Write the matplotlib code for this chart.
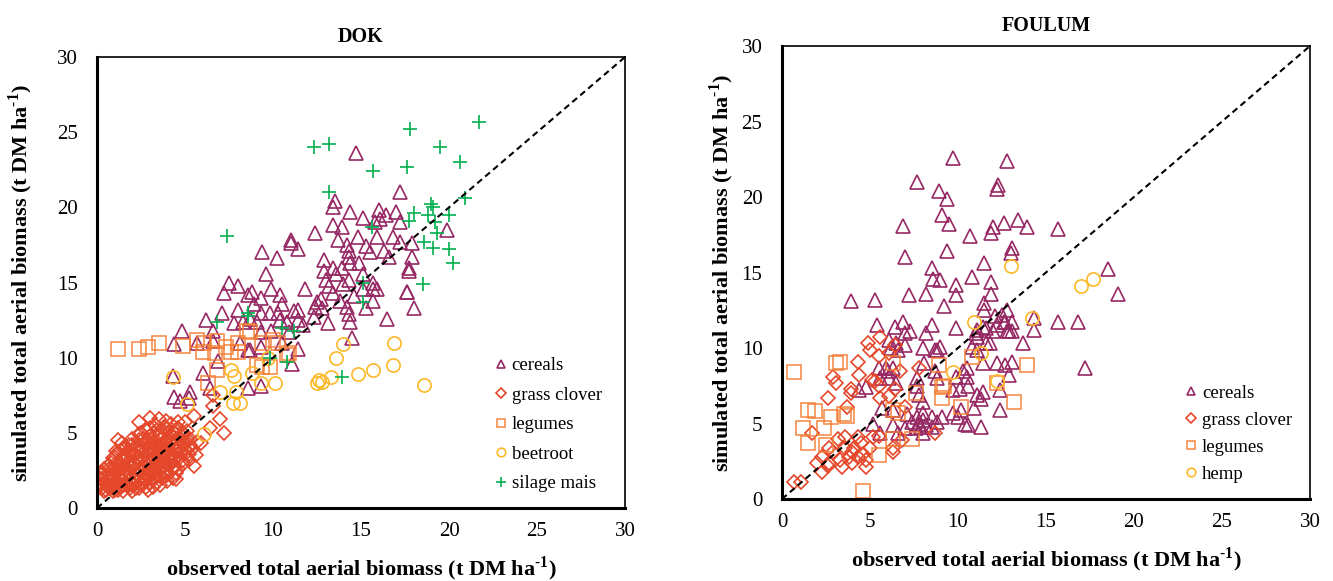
import numpy as np
import matplotlib.pyplot as plt

plt.rcParams['font.family'] = ['Liberation Serif', 'DejaVu Serif']
plt.rcParams['mathtext.fontset'] = 'custom'
plt.rcParams['mathtext.rm'] = 'Liberation Serif:bold'
plt.rcParams['mathtext.bf'] = 'Liberation Serif:bold'

# ---------------- DOK ----------------
dok_cereals = np.array([
    (14.7, 23.6), (17.2, 21.0), (13.5, 20.4), (13.4, 20.0), (14.4, 19.7), (16.0, 19.8), (16.4, 19.5),
    (17.0, 19.7), (15.1, 19.3), (16.1, 19.2), (17.2, 19.0), (15.8, 19.0), (13.4, 18.8), (13.9, 18.7),
    (12.4, 18.3), (19.9, 18.5), (11.0, 17.8), (11.0, 17.6), (11.4, 17.2), (13.7, 17.8), (15.9, 18.0),
    (16.8, 18.0), (17.2, 17.7), (17.9, 17.6), (14.2, 17.5), (14.3, 17.1), (14.3, 16.7), (14.4, 16.3),
    (15.3, 17.4), (15.5, 17.0), (16.3, 17.1), (16.6, 16.7), (17.9, 16.7), (17.7, 16.0), (9.4, 17.0),
    (10.2, 16.6), (9.6, 15.6), (14.9, 16.3), (13.4, 16.0), (12.9, 15.8), (13.9, 16.0), (14.3, 15.2),
    (15.1, 15.6), (15.7, 15.0), (15.7, 14.6), (15.1, 14.6), (13.0, 15.2), (13.4, 14.3), (13.2, 14.8),
    (7.5, 15.0), (8.0, 14.8), (7.2, 14.3), (8.6, 14.2), (8.8, 14.4), (9.3, 14.0), (9.9, 14.6),
    (10.4, 14.2), (11.8, 14.6), (10.5, 13.6), (12.7, 13.9), (12.4, 13.4), (12.8, 13.3), (14.2, 13.4),
    (14.3, 12.9), (14.4, 12.4), (15.3, 13.3), (15.7, 13.8), (17.6, 14.4), (18.0, 13.3), (16.5, 12.6),
    (14.5, 11.3), (13.1, 12.3), (12.3, 12.7), (11.4, 13.2), (11.2, 13.1), (10.3, 13.0), (9.8, 13.0),
    (9.3, 13.0), (8.9, 13.6), (8.0, 13.2), (7.1, 13.0), (6.2, 12.5), (6.6, 11.8), (7.8, 12.3),
    (8.3, 12.4), (8.7, 12.6), (9.1, 12.4), (9.9, 11.8), (10.4, 12.5), (10.8, 12.4), (11.4, 12.5),
    (11.7, 12.2), (10.9, 11.7), (9.3, 11.7), (8.6, 10.5), (8.1, 11.0), (6.6, 11.1), (11.4, 10.6),
    (10.5, 11.0), (4.8, 11.8), (4.4, 10.9), (5.7, 11.0), (6.9, 9.8), (6.0, 9.0), (4.3, 8.8),
    (4.4, 7.4), (4.7, 7.1), (5.3, 7.7), (8.6, 8.0), (9.3, 8.1), (8.7, 10.5), (9.3, 10.7),
    (11.1, 9.6), (12.5, 13.7), (17.7, 15.8), (17.6, 14.4), (15.9, 14.6), (6.4, 8.0), (5.2, 7.3),
    (13.6, 15.6), (14.0, 14.9), (13.8, 13.8), (14.6, 14.1), (12.9, 16.5), (14.8, 18.0),
])

dok_grass = np.array([
    (0.1, 1.5), (0.2, 1.9), (0.3, 1.3), (0.3, 2.4), (0.4, 1.7), (0.5, 2.1), (0.5, 1.2), (0.6, 2.8),
    (0.6, 1.6), (0.7, 2.2), (0.8, 1.4), (0.8, 3.0), (0.9, 1.9), (0.9, 2.6), (1.0, 1.2), (1.0, 3.4),
    (1.0, 2.3), (1.1, 1.7), (1.1, 2.9), (1.2, 2.1), (1.2, 3.7), (1.3, 1.4), (1.3, 2.5), (1.4, 3.2),
    (1.4, 1.9), (1.5, 2.7), (1.5, 4.0), (1.5, 1.1), (1.6, 2.2), (1.6, 3.5), (1.7, 1.6), (1.7, 2.9),
    (1.8, 4.2), (1.8, 2.4), (1.9, 1.3), (1.9, 3.2), (2.0, 2.0), (2.0, 3.8), (2.0, 2.7), (2.0, 4.6),
    (2.1, 1.5), (2.1, 3.0), (2.2, 2.3), (2.2, 4.1), (2.3, 1.8), (2.3, 3.4), (2.4, 2.6), (2.4, 4.5),
    (2.4, 1.3), (2.5, 2.0), (2.5, 3.8), (2.5, 3.0), (2.5, 5.0), (2.6, 1.6), (2.6, 2.8), (2.7, 3.5),
    (2.7, 4.3), (2.8, 2.2), (2.8, 1.9), (2.8, 5.2), (2.9, 3.1), (2.9, 2.5), (3.0, 4.0), (3.0, 1.7),
    (3.0, 3.6), (3.0, 4.8), (3.1, 2.3), (3.1, 3.2), (3.2, 2.8), (3.2, 4.4), (3.2, 1.4), (3.3, 5.5),
    (3.3, 3.7), (3.3, 2.0), (3.4, 4.1), (3.4, 3.0), (3.5, 2.5), (3.5, 4.8), (3.5, 3.5), (3.5, 5.9),
    (3.6, 2.1), (3.6, 4.2), (3.7, 3.2), (3.7, 5.0), (3.8, 2.7), (3.8, 3.8), (3.9, 4.5), (3.9, 2.4),
    (4.0, 3.4), (4.0, 5.3), (4.0, 4.0), (4.0, 1.8), (4.1, 2.9), (4.1, 4.7), (4.2, 3.6), (4.2, 5.6),
    (4.3, 4.2), (4.3, 2.6), (4.4, 3.2), (4.4, 5.0), (4.5, 4.4), (4.5, 3.8), (4.5, 2.3), (4.6, 5.3),
    (4.7, 3.4), (4.7, 4.0), (4.8, 4.8), (4.9, 2.9), (5.0, 4.3), (5.0, 3.6), (5.1, 5.1), (5.2, 3.2),
    (5.3, 4.6), (5.4, 3.9), (5.5, 2.8),
    (0.2, 2.2), (0.4, 2.6), (0.4, 1.1), (0.6, 1.9), (0.7, 1.3), (0.7, 2.6), (0.8, 2.0), (0.9, 3.3),
    (1.0, 1.6), (1.1, 2.5), (1.1, 3.8), (1.2, 1.2), (1.3, 3.0), (1.3, 2.0), (1.4, 2.7), (1.4, 4.3),
    (1.5, 1.5), (1.5, 3.4), (1.6, 2.0), (1.6, 4.0), (1.7, 2.6), (1.7, 3.3), (1.8, 1.5), (1.8, 3.7),
    (1.9, 2.2), (1.9, 2.9), (2.0, 1.6), (2.0, 4.2), (2.1, 3.5), (2.1, 2.5), (2.2, 1.3), (2.2, 2.9),
    (2.3, 3.8), (2.3, 2.1), (2.4, 3.1), (2.4, 4.9), (2.5, 1.6), (2.5, 2.4), (2.6, 3.3), (2.6, 4.0),
    (2.6, 4.6), (2.7, 2.0), (2.7, 2.7), (2.8, 3.8), (2.8, 1.4), (2.9, 4.4), (2.9, 2.2), (3.0, 3.0),
    (3.0, 2.6), (3.0, 5.3), (3.1, 3.9), (3.1, 1.9), (3.2, 3.4), (3.2, 2.5), (3.2, 5.0), (3.3, 4.3),
    (3.3, 2.8), (3.4, 3.6), (3.4, 1.7), (3.4, 5.2), (3.5, 2.2), (3.5, 4.0), (3.6, 3.0), (3.6, 4.6),
    (3.6, 2.6), (3.7, 3.6), (3.7, 2.0), (3.8, 4.2), (3.8, 3.2), (3.8, 5.4), (3.9, 2.9), (3.9, 3.6),
    (4.0, 4.6), (4.0, 2.2), (4.1, 3.8), (4.1, 5.0), (4.2, 3.1), (4.2, 4.4), (4.3, 2.0), (4.3, 3.5),
    (4.4, 4.7), (4.4, 2.8), (4.5, 3.4), (4.5, 5.2), (4.6, 4.1), (4.6, 2.6), (4.7, 3.7), (4.8, 4.4),
    (4.8, 3.1), (4.9, 5.0), (5.0, 3.9), (5.1, 4.6), (5.2, 3.6), (5.3, 4.2), (5.6, 3.5), (5.7, 4.4),
    (3.9, 5.8), (4.6, 5.7), (1.2, 4.5), (0.9, 1.1), (2.9, 1.2), (3.6, 1.5),
    (2.4, 5.7), (3.0, 6.0), (5.5, 6.1), (7.0, 5.9), (6.4, 5.3), (7.2, 5.0), (5.9, 4.3), (6.6, 7.5),
    (6.6, 6.8), (5.0, 5.7), (4.5, 1.9), (2.0, 1.1), (0.2, 1.9), (0.1, 1.4),
])

dok_legumes = np.array([
    (1.2, 10.6), (2.4, 10.6), (2.9, 10.7), (3.5, 11.0), (4.9, 10.8), (5.7, 11.2), (6.0, 10.4),
    (6.1, 11.0), (6.8, 11.1), (6.7, 10.3), (7.3, 10.7), (7.6, 10.4), (8.0, 11.0), (8.0, 10.4),
    (8.5, 11.8), (8.7, 11.7), (9.4, 11.0), (10.0, 11.2), (10.3, 11.0), (10.8, 10.2), (10.9, 10.3),
    (9.1, 9.5), (9.4, 9.4), (9.8, 9.4), (6.8, 9.2), (6.3, 8.3),
])

dok_beetroot = np.array([
    (4.3, 8.7), (5.1, 6.9), (6.1, 4.9), (7.0, 7.7), (7.6, 9.2), (7.8, 8.8), (7.9, 7.7), (7.7, 7.0),
    (8.1, 7.0), (8.8, 9.0), (9.3, 8.3), (10.1, 8.3), (9.7, 10.0), (12.5, 8.3), (12.6, 8.5),
    (12.8, 8.4), (13.3, 8.7), (13.6, 10.0), (14.0, 10.9), (14.8, 8.9), (15.7, 9.2), (16.8, 9.5),
    (16.9, 11.0), (18.6, 8.2),
])

dok_mais = np.array([
    (17.8, 25.2), (21.7, 25.7), (19.5, 24.0), (20.6, 23.0), (17.6, 22.7), (15.7, 22.4), (12.3, 24.0),
    (13.2, 24.2), (13.2, 21.0), (20.9, 20.6), (19.0, 20.2), (19.1, 20.0), (18.0, 19.6), (18.8, 19.5),
    (20.0, 19.5), (17.7, 19.1), (19.2, 19.0), (15.6, 18.7), (19.3, 18.3), (18.6, 17.7), (19.1, 17.3),
    (20.0, 17.2), (20.2, 16.3), (7.4, 18.1), (15.1, 15.0), (18.5, 14.9), (15.1, 13.7), (8.6, 13.0),
    (8.6, 12.8), (6.8, 12.4), (10.5, 12.0), (11.2, 11.8), (9.8, 10.0), (10.8, 9.7), (13.9, 8.7),
])

# ---------------- FOULUM ----------------
fou_cereals = np.array([
    (9.7, 22.6), (12.8, 22.4), (7.7, 21.0), (8.9, 20.4), (9.4, 19.9), (12.3, 20.8), (12.2, 20.5),
    (9.1, 18.8), (9.5, 18.2), (6.9, 18.1), (10.7, 17.4), (12.0, 18.0), (11.9, 17.6), (12.6, 18.3),
    (13.4, 18.5), (13.9, 18.0), (15.7, 17.9), (9.4, 16.4), (7.0, 16.0), (13.1, 16.6), (13.0, 16.3),
    (8.5, 15.3), (11.5, 15.6), (8.6, 14.6), (9.0, 14.5), (10.8, 14.7), (9.9, 14.2), (11.9, 14.4),
    (11.9, 13.6), (9.9, 13.5), (8.2, 13.6), (7.2, 13.5), (3.9, 13.1), (5.3, 13.2), (9.2, 12.8),
    (11.5, 13.0), (11.5, 12.5), (12.8, 12.5), (12.5, 12.2), (12.1, 12.1), (12.7, 11.7), (13.1, 11.7),
    (14.3, 12.0), (15.7, 11.7), (16.8, 11.7), (12.8, 11.1), (13.1, 11.1), (14.3, 11.2), (13.7, 10.3),
    (5.4, 11.5), (6.4, 11.4), (6.9, 11.7), (7.3, 11.1), (7.0, 11.0), (8.2, 11.0), (8.5, 11.5),
    (9.9, 11.3), (11.0, 11.0), (11.4, 11.4), (12.0, 11.1), (11.1, 10.7), (11.1, 11.2), (11.6, 11.3),
    (12.2, 11.5), (12.6, 11.7), (12.9, 11.1), (6.1, 10.5), (6.2, 10.0), (6.5, 10.3), (7.0, 10.2),
    (6.6, 9.9), (8.0, 10.0), (8.7, 9.9), (8.8, 9.9), (9.0, 10.1), (10.8, 10.1), (11.1, 9.9),
    (11.6, 10.3), (11.8, 10.3), (5.5, 8.7), (5.9, 8.7), (6.0, 8.5), (6.3, 8.7), (5.6, 8.0),
    (6.1, 8.0), (4.4, 7.2), (4.8, 7.4), (6.5, 7.7), (8.1, 9.0), (7.7, 8.0), (7.7, 7.5), (7.8, 6.9),
    (8.0, 6.4), (8.7, 8.5), (8.8, 8.0), (9.9, 8.1), (10.3, 8.5), (10.5, 8.1), (10.5, 8.7),
    (11.4, 9.0), (12.2, 9.0), (12.7, 8.9), (13.1, 9.1), (12.9, 8.2), (9.7, 7.2), (10.1, 7.3),
    (10.6, 7.5), (11.1, 6.9), (11.4, 7.1), (12.4, 7.2), (11.3, 6.6), (10.9, 6.0), (10.2, 5.9),
    (12.4, 5.9), (9.7, 5.7), (10.0, 5.4), (10.4, 5.0), (10.6, 4.9), (11.3, 4.8), (8.0, 5.7),
    (8.5, 5.4), (8.8, 5.1), (9.1, 5.4), (8.2, 4.9), (7.4, 5.1), (7.7, 5.4), (7.8, 5.0), (7.9, 4.8),
    (8.0, 5.2), (7.6, 4.7), (7.0, 4.7), (6.3, 4.9), (6.6, 4.4), (7.1, 5.6), (6.3, 5.9), (5.7, 6.0),
    (5.2, 5.0), (5.6, 4.4), (8.0, 4.4), (8.5, 4.8), (18.5, 15.2), (19.1, 13.6), (17.2, 8.7),
])

fou_grass = np.array([
    (0.7, 1.1), (1.1, 1.1), (4.9, 10.3), (5.6, 10.7), (5.0, 9.9), (5.5, 9.5), (4.3, 9.1), (6.1, 9.7),
    (6.4, 10.2), (2.9, 8.1), (3.1, 7.7), (4.4, 8.2), (3.9, 7.3), (3.9, 7.0), (2.6, 6.7), (5.1, 7.9),
    (5.3, 7.8), (5.5, 7.5), (5.6, 6.7), (6.1, 6.8), (6.4, 7.3), (6.7, 8.5), (7.8, 8.7), (7.0, 6.1),
    (3.7, 6.1), (1.7, 4.4), (3.2, 4.0), (3.6, 4.1), (2.7, 3.4), (2.9, 3.1), (2.3, 2.8), (2.0, 2.4),
    (2.3, 1.8), (2.6, 2.2), (3.3, 2.6), (3.6, 3.4), (4.0, 3.1), (3.8, 2.8), (4.1, 3.4), (4.3, 4.1),
    (4.5, 3.7), (4.6, 3.0), (4.8, 2.6), (5.0, 3.4), (5.2, 4.1), (5.5, 4.2), (4.3, 2.8), (4.0, 2.4),
    (3.4, 2.1), (4.8, 2.1), (6.3, 3.4), (6.3, 3.1), (6.8, 3.9), (8.7, 4.4), (2.7, 2.4),
])

fou_legumes = np.array([
    (0.7, 8.4), (3.1, 9.0), (3.3, 9.1), (6.3, 9.0), (8.9, 8.9), (9.1, 7.4), (9.2, 7.5), (9.1, 6.7),
    (7.6, 7.0), (10.8, 9.4), (10.2, 6.1), (12.2, 7.7), (13.2, 6.4), (13.9, 8.9), (1.5, 5.9),
    (1.9, 5.8), (1.2, 4.7), (1.5, 3.7), (2.4, 4.7), (2.8, 5.4), (3.5, 5.6), (3.7, 5.5), (2.5, 3.6),
    (5.5, 2.9), (6.3, 5.9), (6.6, 5.7), (6.3, 4.0), (7.4, 4.0), (4.6, 0.5),
])

fou_hemp = np.array([
    (13.0, 15.4), (17.0, 14.1), (17.7, 14.6), (10.9, 11.7), (14.2, 12.0), (11.3, 9.7), (9.7, 8.4),
    (12.2, 7.8),
])

ticks = [0, 5, 10, 15, 20, 25, 30]

c_cer = '#962864'
c_gra = '#E4472A'
c_leg = '#F47C30'
c_bee = '#FDB827'
c_mai = '#00B050'

fig = plt.figure(figsize=(13.33, 5.81), dpi=100)
ax1 = fig.add_axes([0.0728, 0.1256, 0.3961, 0.7762])
ax2 = fig.add_axes([0.5866, 0.1411, 0.3961, 0.7797])

style = dict(linestyle='none', mfc='none', mew=1.2)
xlab = r'observed total aerial biomass (t DM ha$^{\text{-1}}$)'
ylab = r'simulated total aerial biomass (t DM ha$^{\text{-1}}$)'


def setup(ax, title, ypad):
    ax.plot([0, 30], [0, 30], color='black', linestyle=(0, (3, 2)), lw=1.5, zorder=5)
    ax.set_xlim(0, 30)
    ax.set_ylim(0, 30)
    ax.set_xticks(ticks)
    ax.set_yticks(ticks)
    ax.tick_params(length=0, labelsize=15)
    ax.tick_params(axis='x', pad=10)
    ax.tick_params(axis='y', pad=14)
    for s in ['left', 'bottom']:
        ax.spines[s].set_linewidth(2.2)
    for s in ['top', 'right']:
        ax.spines[s].set_linewidth(1.2)
    ax.set_title(title, fontsize=14.5, fontweight='bold', pad=11)
    ax.set_xlabel(xlab, fontsize=16, fontweight='bold', labelpad=10)
    ax.set_ylabel(ylab, fontsize=16, fontweight='bold', labelpad=ypad)


ax1.plot(dok_cereals[:, 0], dok_cereals[:, 1], '^', mec=c_cer, ms=9.5, label='cereals', **style)
ax1.plot(dok_grass[:, 0], dok_grass[:, 1], 'D', mec=c_gra, ms=7.5, label='grass clover', **style)
ax1.plot(dok_legumes[:, 0], dok_legumes[:, 1], 's', mec=c_leg, ms=9.5, alpha=0.85, label='legumes', **style)
ax1.plot(dok_beetroot[:, 0], dok_beetroot[:, 1], 'o', mec=c_bee, ms=9.5, label='beetroot', **style)
ax1.plot(dok_mais[:, 0], dok_mais[:, 1], '+', mec=c_mai, ms=10, label='silage mais', **style)
setup(ax1, 'DOK', 16)
ax1.legend(loc='upper left', bbox_to_anchor=(0.755, 0.335), frameon=False, fontsize=13.5,
           markerscale=0.65, handlelength=0.6, handletextpad=0.25, labelspacing=0.66,
           borderpad=0, borderaxespad=0)

ax2.plot(fou_cereals[:, 0], fou_cereals[:, 1], '^', mec=c_cer, ms=9.5, label='cereals', **style)
ax2.plot(fou_grass[:, 0], fou_grass[:, 1], 'D', mec=c_gra, ms=7.5, label='grass clover', **style)
ax2.plot(fou_legumes[:, 0], fou_legumes[:, 1], 's', mec=c_leg, ms=9.5, alpha=0.85, label='legumes', **style)
ax2.plot(fou_hemp[:, 0], fou_hemp[:, 1], 'o', mec=c_bee, ms=9.5, label='hemp', **style)
setup(ax2, 'FOULUM', 4)
ax2.legend(loc='upper left', bbox_to_anchor=(0.765, 0.252), frameon=False, fontsize=13.5,
           markerscale=0.65, handlelength=0.6, handletextpad=0.25, labelspacing=0.52,
           borderpad=0, borderaxespad=0)

fig.savefig('out.png', dpi=100)
